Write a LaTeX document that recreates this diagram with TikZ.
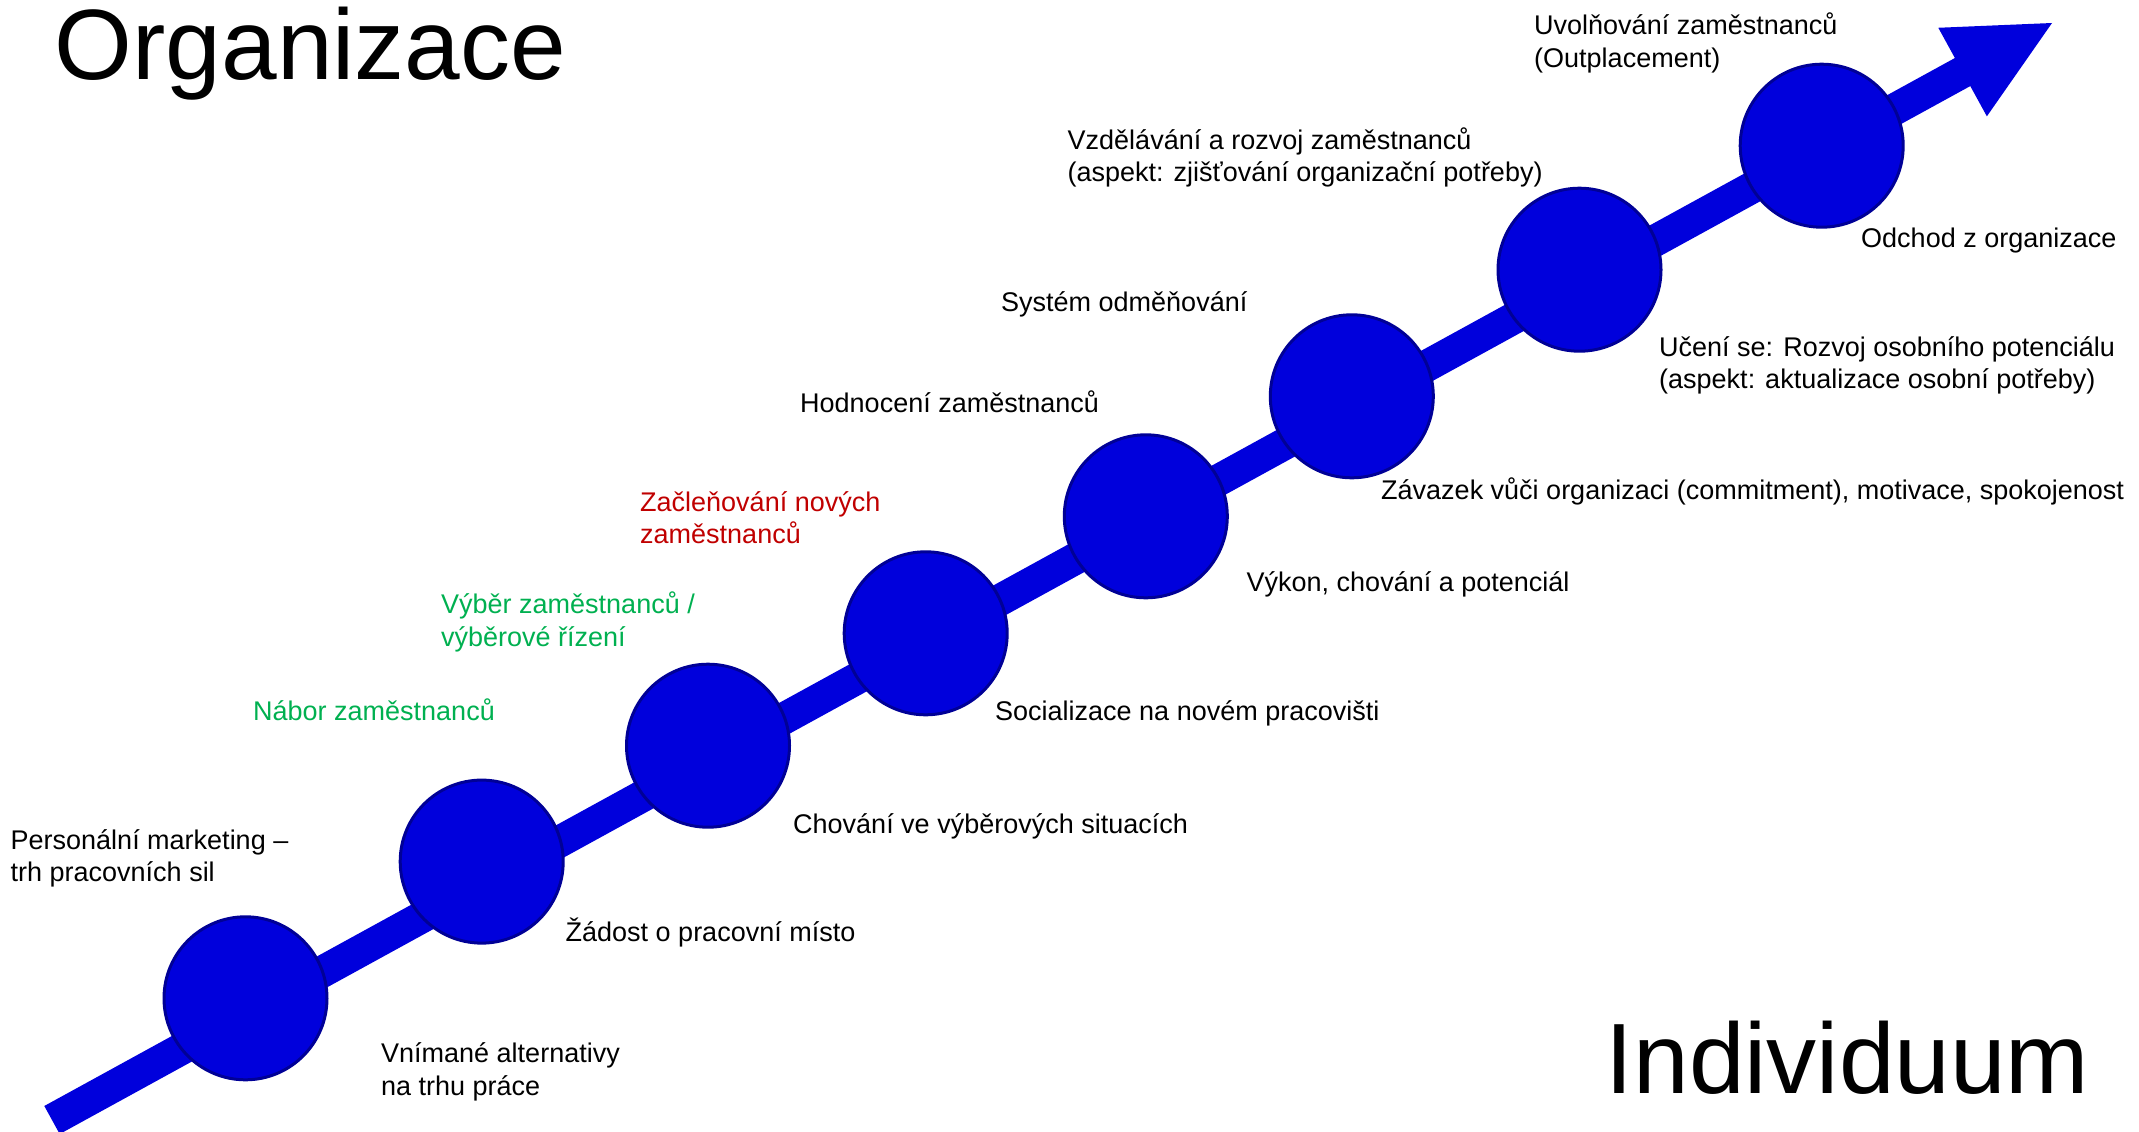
\documentclass[tikz,border=0pt]{standalone}
\usepackage{fontspec}
\setmainfont{Liberation Sans}
\usetikzlibrary{calc}
\definecolor{ballblue}{RGB}{0,0,220}
\definecolor{rimblue}{RGB}{0,0,150}
\definecolor{labgreen}{RGB}{0,176,80}
\definecolor{labred}{RGB}{192,0,0}
\begin{document}
\begin{tikzpicture}[x=1pt,y=-1pt,
  station/.style={circle, fill=ballblue, draw=rimblue, line width=3pt,
    minimum size=163pt, inner sep=0pt},
  % multi-line labels sit on the baseline of their last line
  lab/.style={anchor=base west, inner sep=0pt, align=left,
    font=\fontsize{27}{32.5}\selectfont},
  big/.style={anchor=base west, inner sep=0pt,
    font=\fontsize{100}{120}\selectfont}]
\useasboundingbox (0,0) rectangle (2139,1132);

% the rising arrow
\coordinate (s) at (52,1120);
\coordinate (t) at (2052,23);
\coordinate (h) at ($(t)!102pt!(s)$);
\fill[ballblue] ($(s)!16pt!90:(t)$) -- ($(h)!16pt!90:(t)$) -- ($(h)!50.5pt!90:(t)$)
  -- (t) -- ($(h)!50.5pt!-90:(t)$) -- ($(h)!16pt!-90:(t)$) -- ($(s)!16pt!-90:(t)$) -- cycle;

% stations along the arrow
\node[station] (c1) at (245.5,998.3) {};
\node[station] (c2) at (481.7,861.6) {};
\node[station] (c3) at (708,745.7) {};
\node[station] (c4) at (925.7,633.3) {};
\node[station] (c5) at (1145.8,516.3) {};
\node[station] (c6) at (1351.8,396.3) {};
\node[station] (c7) at (1579.5,269.7) {};
\node[station] (c8) at (1821.7,145.7) {};

% headings
\node[big] (org) at (54.5,79.3) {Organizace};
\node[big] (ind) at (1605.5,1093.3) {Individuum};

% labels
\node[lab] (l1) at (1534,67) {Uvolňování zaměstnanců\\(Outplacement)};
\node[lab] (l2) at (1067.5,181.8) {Vzdělávání a rozvoj zaměstnanců\\(aspekt: zjišťování organizační potřeby)};
\node[lab] (l3) at (1861,247) {Odchod z organizace};
\node[lab] (l4) at (1001,311.7) {Systém odměňování};
\node[lab] (l5) at (1659,388.5) {Učení se: Rozvoj osobního potenciálu\\(aspekt: aktualizace osobní potřeby)};
\node[lab] (l6) at (800,412.7) {Hodnocení zaměstnanců};
\node[lab] (l7) at (1381,499) {Závazek vůči organizaci (commitment), motivace, spokojenost};
\node[lab, text=labred] (l8) at (640,543.5) {Začleňování nových\\zaměstnanců};
\node[lab] (l9) at (1246.5,591.4) {Výkon, chování a potenciál};
\node[lab, text=labgreen] (l10) at (441,646.2) {Výběr zaměstnanců /\\výběrové řízení};
\node[lab, text=labgreen] (l11) at (253,720) {Nábor zaměstnanců};
\node[lab] (l12) at (995,720.7) {Socializace na novém pracovišti};
\node[lab] (l13) at (793,833.3) {Chování ve výběrových situacích};
\node[lab] (l14) at (10.5,881.5) {Personální marketing –\\trh pracovních sil};
\node[lab] (l15) at (565.5,941.7) {Žádost o pracovní místo};
\node[lab] (l16) at (381,1095.2) {Vnímané alternativy\\na trhu práce};
\end{tikzpicture}
\end{document}
